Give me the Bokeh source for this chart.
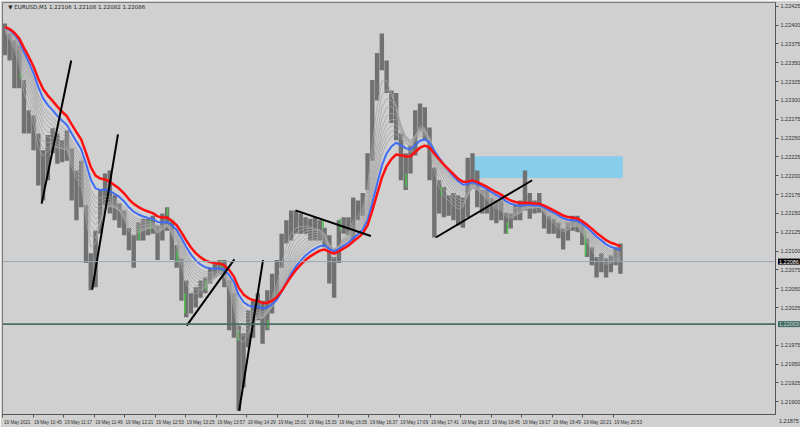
import numpy as np
from bokeh.plotting import figure
from bokeh.models import (ColumnDataSource, Range1d, FixedTicker, Span, Label,
                          PrintfTickFormatter, LinearAxis)
from bokeh.embed import file_html
from bokeh.resources import INLINE

# ---------------- data ----------------
title_text = "\u25BC EURUSD,M1  1.22106 1.22108 1.22082 1.22086"
bar_minutes = 5  # each drawn bar aggregates 5 one-minute bars, starting 10:13

high = [1.22402, 1.22389, 1.22380, 1.22373, 1.22327, 1.22287, 1.22280, 1.22256, 1.22234, 1.22254,
        1.22263, 1.22256, 1.22247, 1.22260, 1.22236, 1.22207, 1.22220, 1.22161, 1.22097, 1.22127,
        1.22181, 1.22203, 1.22207, 1.22174, 1.22163, 1.22154, 1.22131, 1.22121, 1.22138, 1.22143,
        1.22143, 1.22147, 1.22134, 1.22150, 1.22158, 1.22141, 1.22108, 1.22090, 1.22061, 1.22044,
        1.22052, 1.22061, 1.22065, 1.22078, 1.22084, 1.22088, 1.22088, 1.22061, 1.22044, 1.22001,
        1.21991, 1.22021, 1.22034, 1.22044, 1.22034, 1.22048, 1.22070, 1.22088, 1.22123, 1.22141,
        1.22154, 1.22154, 1.22150, 1.22145, 1.22143, 1.22145, 1.22141, 1.22131, 1.22121, 1.22092,
        1.22141, 1.22145, 1.22145, 1.22171, 1.22167, 1.22177, 1.22230, 1.22327, 1.22363, 1.22389,
        1.22353, 1.22313, 1.22310, 1.22256, 1.22230, 1.22240, 1.22287, 1.22296, 1.22291, 1.22264,
        1.22211, 1.22194, 1.22185, 1.22174, 1.22177, 1.22174, 1.22171, 1.22224, 1.22230, 1.22207,
        1.22181, 1.22181, 1.22170, 1.22167, 1.22167, 1.22151, 1.22150, 1.22161, 1.22167, 1.22207,
        1.22177, 1.22167, 1.22177, 1.22161, 1.22147, 1.22143, 1.22138, 1.22130, 1.22138, 1.22147,
        1.22147, 1.22138, 1.22117, 1.22105, 1.22092, 1.22097, 1.22090, 1.22094, 1.22105, 1.22110]
low = [1.22360, 1.22353, 1.22316, 1.22316, 1.22256, 1.22256, 1.22234, 1.22187, 1.22167, 1.22194,
       1.22230, 1.22216, 1.22218, 1.22220, 1.22167, 1.22141, 1.22158, 1.22084, 1.22048, 1.22052,
       1.22123, 1.22161, 1.22150, 1.22141, 1.22131, 1.22121, 1.22101, 1.22078, 1.22114, 1.22114,
       1.22121, 1.22123, 1.22088, 1.22114, 1.22127, 1.22088, 1.22078, 1.22034, 1.22012, 1.22017,
       1.22025, 1.22038, 1.22044, 1.22057, 1.22065, 1.22070, 1.22052, 1.21995, 1.21985, 1.21888,
       1.21919, 1.21972, 1.21985, 1.22008, 1.21977, 1.21995, 1.22017, 1.22038, 1.22078, 1.22110,
       1.22114, 1.22123, 1.22123, 1.22123, 1.22114, 1.22114, 1.22114, 1.22105, 1.22057, 1.22038,
       1.22084, 1.22123, 1.22121, 1.22114, 1.22141, 1.22147, 1.22181, 1.22220, 1.22300, 1.22340,
       1.22310, 1.22270, 1.22247, 1.22194, 1.22181, 1.22203, 1.22227, 1.22260, 1.22247, 1.22194,
       1.22118, 1.22150, 1.22145, 1.22147, 1.22141, 1.22134, 1.22131, 1.22145, 1.22187, 1.22158,
       1.22150, 1.22150, 1.22141, 1.22137, 1.22141, 1.22123, 1.22130, 1.22141, 1.22141, 1.22154,
       1.22143, 1.22150, 1.22151, 1.22130, 1.22123, 1.22123, 1.22117, 1.22102, 1.22114, 1.22127,
       1.22125, 1.22108, 1.22092, 1.22081, 1.22065, 1.22072, 1.22065, 1.22072, 1.22081, 1.22070]
close = [1.22380, 1.22373, 1.22353, 1.22327, 1.22274, 1.22271, 1.22247, 1.22207, 1.22214, 1.22240,
         1.22247, 1.22234, 1.22234, 1.22234, 1.22187, 1.22181, 1.22174, 1.22101, 1.22068, 1.22114,
         1.22167, 1.22187, 1.22167, 1.22154, 1.22147, 1.22130, 1.22111, 1.22117, 1.22127, 1.22130,
         1.22133, 1.22134, 1.22114, 1.22134, 1.22143, 1.22108, 1.22090, 1.22054, 1.22034, 1.22034,
         1.22041, 1.22050, 1.22057, 1.22068, 1.22074, 1.22081, 1.22061, 1.22028, 1.22001, 1.21942,
         1.21975, 1.22001, 1.22015, 1.22028, 1.22008, 1.22034, 1.22054, 1.22074, 1.22108, 1.22130,
         1.22141, 1.22138, 1.22134, 1.22134, 1.22130, 1.22127, 1.22127, 1.22114, 1.22074, 1.22081,
         1.22121, 1.22134, 1.22134, 1.22154, 1.22154, 1.22167, 1.22214, 1.22300, 1.22340, 1.22360,
         1.22327, 1.22294, 1.22274, 1.22220, 1.22214, 1.22227, 1.22274, 1.22280, 1.22260, 1.22220,
         1.22167, 1.22167, 1.22161, 1.22161, 1.22154, 1.22151, 1.22161, 1.22194, 1.22207, 1.22174,
         1.22167, 1.22161, 1.22154, 1.22151, 1.22151, 1.22138, 1.22141, 1.22151, 1.22154, 1.22167,
         1.22161, 1.22158, 1.22161, 1.22141, 1.22134, 1.22130, 1.22125, 1.22121, 1.22130, 1.22138,
         1.22134, 1.22114, 1.22101, 1.22090, 1.22081, 1.22085, 1.22077, 1.22085, 1.22094, 1.22086]

# single highlighted (green) one-minute bars
green_clock = ["10:32", "12:36", "12:48", "13:06", "13:16", "13:24", "13:46", "14:02",
               "14:20", "14:51", "15:49", "16:07", "17:16", "17:53", "19:02", "20:24"]
green_hi = [1.22336, 1.22131, 1.22141, 1.22158, 1.22101, 1.22044, 1.22061, 1.22088,
            1.21995, 1.22008, 1.22141, 1.22143, 1.22203, 1.22185, 1.22138, 1.22127]
green_lo = [1.22329, 1.22114, 1.22127, 1.22147, 1.22085, 1.22017, 1.22048, 1.22074,
            1.21981, 1.21997, 1.22130, 1.22127, 1.22185, 1.22174, 1.22123, 1.22094]

# moving-average ribbon (periods in 5-minute bars), seeded at the value shown at the left edge
gray_periods = [3, 4, 5, 6, 7, 8, 9, 10, 11]
blue_period = 13
red_period = 16
ribbon_seed = 1.22400

# time axis labels (minutes after 10:13)
tick_clock = ["10:13", "10:45", "11:17", "11:49", "12:21", "12:53", "13:25", "13:57", "14:29",
              "15:01", "15:33", "16:05", "16:37", "17:09", "17:41", "18:13", "18:45", "19:17",
              "19:49", "20:21", "20:53"]
tick_text = ["19 May 2021"] + ["19 May " + c for c in tick_clock[1:]]

# drawn trend lines: (start clock, start price, end clock, end price)
tl_t0 = ["10:54", "11:47", "13:26", "14:21", "15:20", "17:47"]
tl_p0 = [1.22163, 1.22049, 1.22001, 1.21888, 1.22154, 1.22118]
tl_t1 = ["11:25", "12:14", "14:16", "14:46", "16:39", "19:28"]
tl_p1 = [1.22353, 1.22255, 1.22089, 1.22088, 1.22120, 1.22194]

# rectangle zone
zone_t0, zone_t1 = "18:25", "21:03"
zone_low, zone_high = 1.22197, 1.22226

# horizontal levels and price-scale ticks
bid_level = 1.22086
level_line = 1.22003
bottom_scale_label = 1.21875
price_ticks = [1.21900, 1.21925, 1.21950, 1.21975, 1.22025, 1.22050, 1.22075,
               1.22100, 1.22125, 1.22150, 1.22175, 1.22200, 1.22225, 1.22250,
               1.22275, 1.22300, 1.22325, 1.22350, 1.22375, 1.22400, 1.22425]

# ---------------- helpers ----------------
def clock_to_min(c):
    h, m = c.split(":")
    return (int(h) * 60 + int(m)) - (10 * 60 + 13)

def ema(values, n, seed):
    a = 2.0 / (n + 1)
    out = []
    prev = seed
    for v in values:
        prev = prev + a * (v - prev)
        out.append(prev)
    return out

n = len(close)
t_center = [bar_minutes * i + bar_minutes / 2 for i in range(n)]

BG = "#d0d0d0"
X_END = 810
p = figure(frame_width=773, frame_height=412, output_backend="svg", toolbar_location=None,
           x_range=Range1d(0, X_END), y_range=Range1d(1.21883, 1.22430),
           y_axis_location="right", min_border_left=2, min_border_top=2,
           min_border_right=0, min_border_bottom=0,
           background_fill_color=BG, border_fill_color=BG)
p.grid.visible = False
p.outline_line_color = "#7c7c7c"

# zone rectangle (background)
p.quad(left=[clock_to_min(zone_t0)], right=[clock_to_min(zone_t1)],
       bottom=[zone_low], top=[zone_high], fill_color="#87ceeb", line_color=None)

# horizontal lines
p.add_layout(Span(location=bid_level, dimension="width", line_color="#9aa6b4", line_width=1))
p.add_layout(Span(location=level_line, dimension="width", line_color="#4d6b68", line_width=1.6))

# candles
src = ColumnDataSource(dict(t=t_center, high=high, low=low))
p.vbar(x="t", width=4.6, top="high", bottom="low", source=src,
       fill_color="#717171", line_color=None)
gt = [clock_to_min(c) for c in green_clock]
p.segment(x0=gt, y0=green_hi, x1=gt, y1=green_lo, line_color="#4cbf4c", line_width=1.5)

# ribbon
for per in gray_periods:
    p.line(t_center, ema(close, per, ribbon_seed), line_color="#a4a4a4", line_width=0.8)
p.line(t_center, ema(close, blue_period, ribbon_seed), line_color="#3f6cf5", line_width=2)
p.line(t_center, ema(close, red_period, ribbon_seed), line_color="#ff1010", line_width=2.5)

# trend lines
p.segment(x0=[clock_to_min(c) for c in tl_t0], y0=tl_p0,
          x1=[clock_to_min(c) for c in tl_t1], y1=tl_p1,
          line_color="black", line_width=2)

# y axis (right)
p.yaxis.ticker = FixedTicker(ticks=price_ticks)
p.yaxis.formatter = PrintfTickFormatter(format="%.5f")
p.yaxis.major_label_text_font_size = "5.5px"
p.yaxis.major_label_text_color = "#333333"
p.yaxis.major_label_standoff = 2
p.yaxis.major_tick_out = 3
p.yaxis.major_tick_in = 0
p.yaxis.minor_tick_line_color = None
p.yaxis.axis_line_color = "#555555"
p.yaxis.major_tick_line_color = "#555555"

# x axis: tick marks on the real times, labels start just right of each tick
xt = [clock_to_min(c) for c in tick_clock]
p.xaxis.ticker = FixedTicker(ticks=xt)
p.xaxis.major_label_overrides = {t: "" for t in xt}
p.xaxis.major_label_standoff = 0
p.xaxis.major_tick_out = 3
p.xaxis.major_tick_in = 0
p.xaxis.minor_tick_line_color = None
p.xaxis.axis_line_color = "#555555"
p.xaxis.major_tick_line_color = "#555555"

LABEL_SHIFT = 15.5  # minutes: half a label's width, so the text begins at its tick
xt_lab = [t + LABEL_SHIFT for t in xt]
xlab_axis = LinearAxis(ticker=FixedTicker(ticks=xt_lab),
                       major_label_overrides={t: s for t, s in zip(xt_lab, tick_text)},
                       major_label_text_font_size="4.6px", major_label_text_color="#333333",
                       major_label_standoff=2, major_tick_out=0, major_tick_in=0,
                       minor_tick_out=0, minor_tick_in=0,
                       axis_line_color=None, major_tick_line_color=None,
                       minor_tick_line_color=None)
p.add_layout(xlab_axis, "below")

# title text
p.add_layout(Label(x=6, y=1.22424, text=title_text, text_font_size="5.5px",
                   text_color="#222222", text_baseline="middle", text_font="DejaVu Sans"))

# price boxes on the price scale (side panel, placed on the frame's scales)
BOX_T = X_END + 2.6
p.add_layout(Label(x=BOX_T, y=bid_level, text="%.5f" % bid_level,
                   text_font_size="5.5px", text_color="white", text_baseline="middle",
                   background_fill_color="black", padding=1), "right")
p.add_layout(Label(x=BOX_T, y=level_line, text="%.5f" % level_line,
                   text_font_size="5.5px", text_color="#dddddd", text_baseline="middle",
                   background_fill_color="#3f6a63", padding=1), "right")
p.add_layout(Label(x=BOX_T, y=bottom_scale_label, text="%.5f" % bottom_scale_label,
                   text_font_size="5.5px", text_color="#333333", text_baseline="middle",
                   padding=1), "right")

open("out.html", "w").write(file_html(p, INLINE))
